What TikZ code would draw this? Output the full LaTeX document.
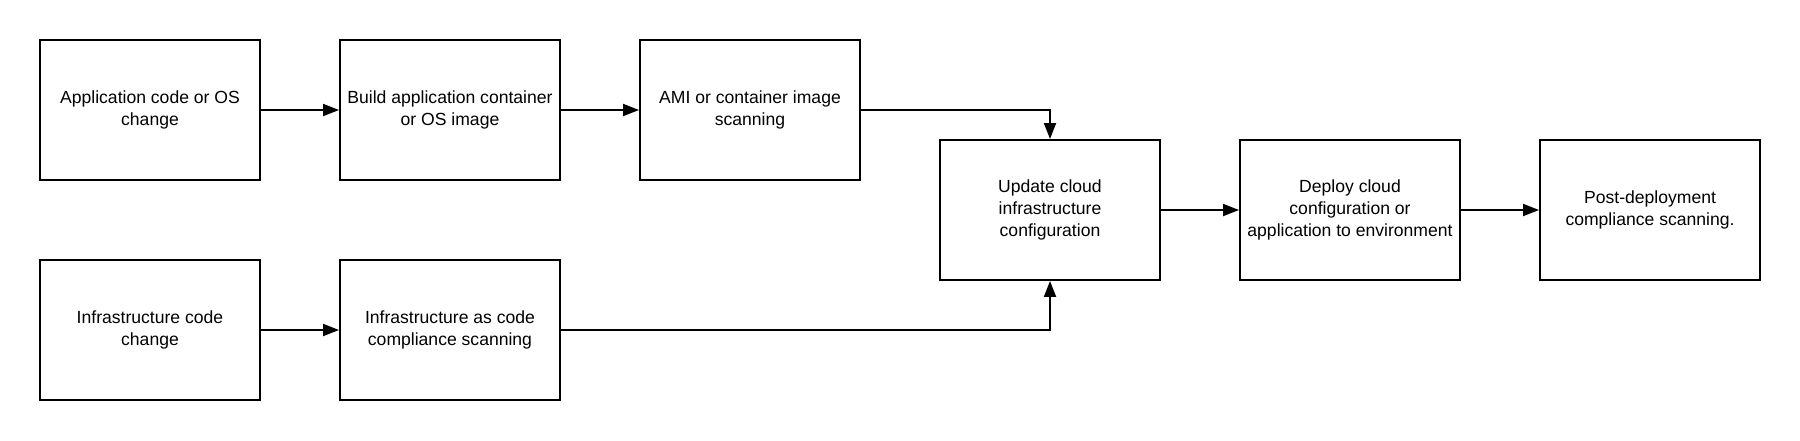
\documentclass[tikz,border=0pt]{standalone}
\usepackage{fontspec}
\setmainfont{Liberation Sans}
\usepackage{xcolor}
\definecolor{Col1}{RGB}{0,0,0}
\definecolor{Col2}{RGB}{0,0,0}
\usepackage{tikz}
\usetikzlibrary{shapes}
\usetikzlibrary{arrows.meta}
\tikzstyle{Node}=[rectangle,draw=Col1,line width=1.1pt,minimum width=4.4cm,
minimum height=2.8cm,inner sep=1pt,align=center,
font=\fontsize{10}{12.5}\selectfont]
\tikzstyle{Edge}=[draw=Col2,line width=1.1pt,
-{Triangle[length=0.32cm,width=0.24cm]}]
\begin{document}
\begin{tikzpicture}[xscale=2,yscale=2]
        \useasboundingbox(0.00,0.00)rectangle(18.00,-4.40);
        \node[Node](1)at(1.50,-1.10){Application code or OS\\change};
        \node[Node](2)at(4.50,-1.10){Build application container\\or OS image};
        \node[Node](3)at(7.50,-1.10){AMI or container image\\scanning};
        \node[Node](4)at(10.50,-2.10)
            {Update cloud\\infrastructure\\configuration};
        \node[Node](5)at(13.50,-2.10)
            {Deploy cloud\\configuration or\\application to environment};
        \node[Node](6)at(16.50,-2.10)
            {Post-deployment\\compliance scanning.};
        \node[Node](7)at(1.50,-3.30){Infrastructure code\\change};
        \node[Node](8)at(4.50,-3.30)
            {Infrastructure as code\\compliance scanning};
        \draw[Edge](1)--(2);
        \draw[Edge](2)--(3);
        \draw[Edge](3.east)-|(4.north);
        \draw[Edge](7)--(8);
        \draw[Edge](8.east)-|(4.south);
        \draw[Edge](4)--(5);
        \draw[Edge](5)--(6);
    \end{tikzpicture}
\end{document}
